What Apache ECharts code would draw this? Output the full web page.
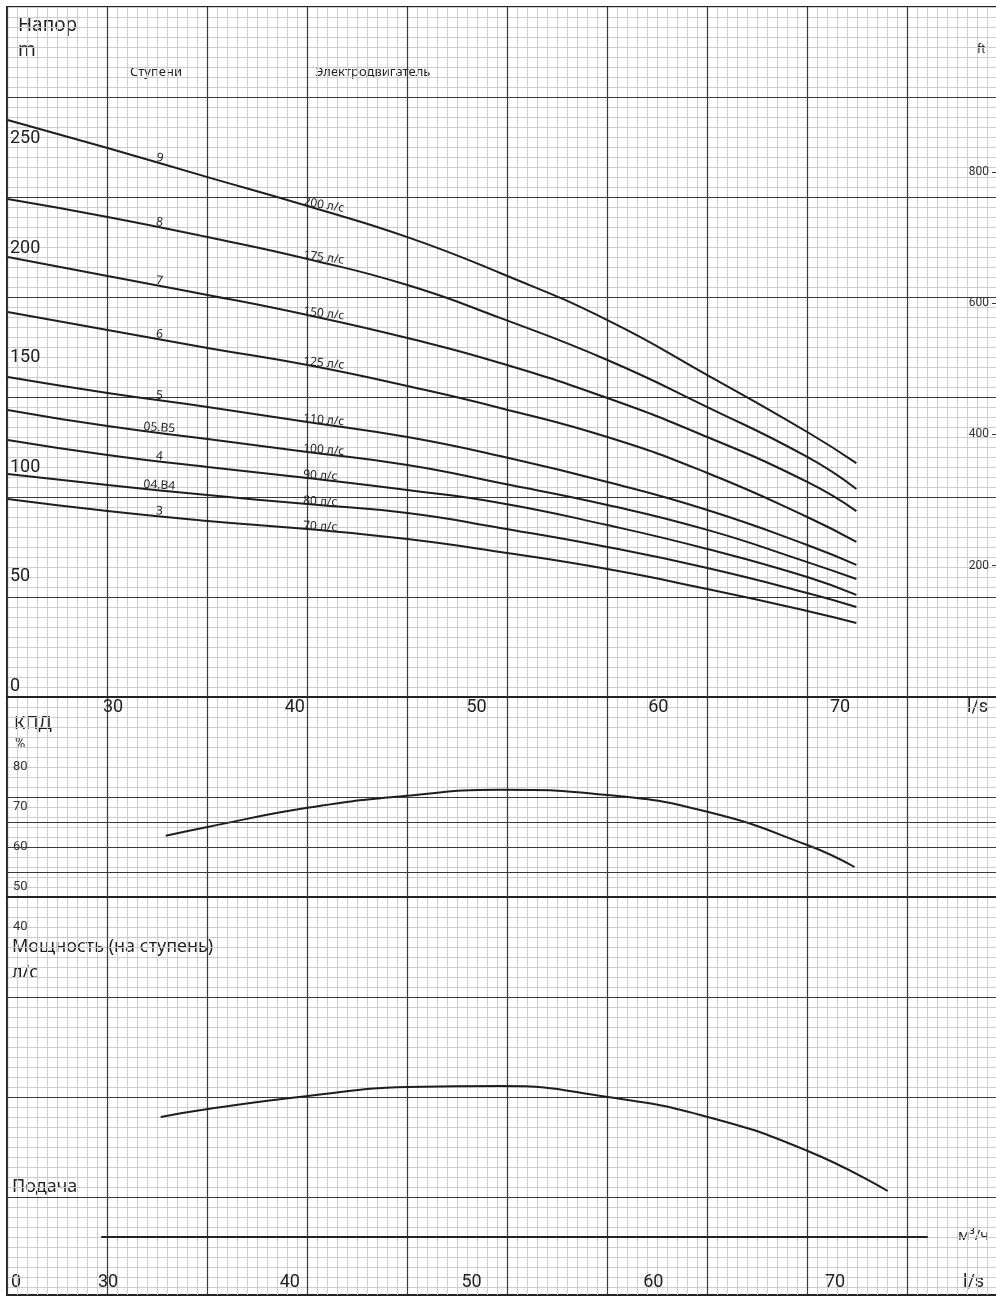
<!DOCTYPE html>
<html>
<head>
<meta charset="utf-8">
<script src="https://cdn.jsdelivr.net/npm/echarts@6/dist/echarts.min.js"></script>
<style>
  html, body { margin: 0; padding: 0; background: #fff; }
  #chart { width: 996px; height: 1296px; }
</style>
</head>
<body>
<div id="chart"></div>
<script>
// ---- data ----
var flowLabels = [30, 40, 50, 60, 70];          // l/s
var headTicks = [0, 50, 100, 150, 200, 250];     // m
var feetTicks = [200, 400, 600, 800];            // ft
var effTicks = [40, 50, 60, 70, 80];             // %

var stageNames = ['9', '8', '7', '6', '5', '05.B5', '4', '04.B4', '3'];
var motorNames = ['200 л/с', '175 л/с', '150 л/с', '125 л/с', '110 л/с', '100 л/с', '90 л/с', '80 л/с', '70 л/с'];

var flowHead = [24.2, 29.7, 35.2, 40.7, 46.2, 51.3, 57.2, 62.7, 68.2, 70.9];
var head9    = [263.5, 250.7, 237.4, 224.2, 210.0, 193.6, 172.1, 147.0, 121.0, 106.8];
var head8    = [227.4, 219.2, 210.0, 200.0, 188.1, 173.1, 153.9, 132.4, 109.6, 95.0];
var head7    = [200.9, 192.2, 183.6, 174.4, 163.9, 152.5, 136.5, 118.7, 98.2, 84.9];
var head6    = [175.8, 167.6, 159.4, 151.6, 142.0, 132.0, 118.7, 102.3, 82.2, 70.8];
var head5    = [146.1, 138.8, 132.4, 125.6, 118.7, 110.0, 98.2, 85.4, 69.4, 60.3];
var head05B5 = [131.1, 123.7, 117.8, 111.9, 105.9, 97.7, 87.7, 76.3, 61.6, 53.9];
var head4    = [117.4, 110.5, 105.0, 100.0, 94.5, 88.6, 78.5, 67.6, 54.8, 46.6];
var head04B4 = [101.8, 96.8, 92.2, 88.1, 84.0, 77.2, 68.5, 58.9, 47.5, 41.1];
var head3    = [90.4, 84.9, 80.4, 76.7, 72.1, 66.2, 58.4, 49.3, 39.3, 33.8];
var heads = [head9, head8, head7, head6, head5, head05B5, head4, head04B4, head3];

var flowEff = [32.9, 35.2, 40.7, 46.2, 51.3, 57.2, 62.7, 68.2, 70.8];
var efficiency = [62.8, 65.0, 69.8, 72.8, 74.3, 73.0, 68.8, 60.5, 55.0];

var flowPower = [32.9, 35.5, 41.0, 46.5, 51.6, 57.5, 63.0, 68.5, 72.9];
var power = [12.0, 12.8, 14.1, 15.0, 15.1, 14.0, 12.0, 8.6, 4.6];

// ---- layout ----
var PX_PER_LS = 18.175;   // pixels per l/s on the flow axes
var PX_PER_M = 2.19;      // pixels per metre of head
var TOP_30 = 113;         // where 30 l/s sits on the upper scale
var BOT_30 = 108;         // and on the lower scale
function flowAt(px, at30) { return 30 + (px - at30) / PX_PER_LS; }

var numFont = 'Roboto, "Liberation Sans", sans-serif';
var txtFont = '"Noto Sans", "DejaVu Sans", sans-serif';
var ink = '#1e1e1e';
var majorRule = { color: '#3a3a3a', width: 1.2 };
var minorRule = { color: '#cdcdcd', width: 1 };

function zip(xs, ys) { return xs.map(function (x, i) { return [x, ys[i]]; }); }
function interp(xs, ys, x) {
    for (var i = 0; i < xs.length - 1; i++) {
        if (x <= xs[i + 1]) {
            var t = (x - xs[i]) / (xs[i + 1] - xs[i]);
            return { y: ys[i] + t * (ys[i + 1] - ys[i]), slope: (ys[i] - ys[i + 1]) / (xs[i + 1] - xs[i]) };
        }
    }
}
function tilt(slope) { return -Math.atan(slope * PX_PER_M / PX_PER_LS) * 180 / Math.PI * 0.6; }

var STAGE_Q = flowAt(159, TOP_30);
var MOTOR_Q = flowAt(303, TOP_30);

var myChart = echarts.init(document.getElementById('chart'));

var series = [];
// extra rulings of the sheet (paper units)
series.push({
    type: 'line', xAxisIndex: 1, yAxisIndex: 1, data: [], silent: true,
    markLine: {
        silent: true, symbol: ['none', 'none'], label: { show: false },
        lineStyle: { color: '#3a3a3a', width: 1.2, type: 'solid' },
        data: [
            { yAxis: 825 }, { yAxis: 850 }, { yAxis: 875 },
            { yAxis: 900, lineStyle: { color: '#222', width: 2.2, type: 'solid' } }
        ]
    }
});

heads.forEach(function (h, i) {
    var s = interp(flowHead, h, STAGE_Q);
    var m = interp(flowHead, h, MOTOR_Q);
    series.push({
        name: stageNames[i],
        type: 'line',
        xAxisIndex: 2, yAxisIndex: 2,
        data: zip(flowHead, h),
        smooth: 0.5,
        showSymbol: false,
        lineStyle: { color: ink, width: 2 },
        markPoint: {
            silent: true,
            symbol: 'circle', symbolSize: 0,
            data: [
                {
                    name: stageNames[i], coord: [STAGE_Q, s.y],
                    label: { align: 'center', verticalAlign: 'bottom', offset: [0, 1], rotate: tilt(s.slope) }
                },
                {
                    name: motorNames[i], coord: [MOTOR_Q, m.y],
                    label: { align: 'left', verticalAlign: 'bottom', offset: [0, 3], rotate: tilt(m.slope) }
                }
            ],
            label: {
                show: true, position: 'inside', formatter: '{b}',
                color: ink, fontSize: 12, fontFamily: txtFont
            }
        }
    });
});

series.push({
    name: 'КПД', type: 'line', xAxisIndex: 3, yAxisIndex: 4,
    data: zip(flowEff, efficiency), smooth: 0.5, showSymbol: false,
    lineStyle: { color: ink, width: 2 }
});
series.push({
    name: 'Мощность', type: 'line', xAxisIndex: 4, yAxisIndex: 5,
    data: zip(flowPower, power), smooth: 0.5, showSymbol: false,
    lineStyle: { color: ink, width: 2 }
});

var hidden = { show: false };
var option = {
    backgroundColor: '#fff',
    animation: false,
    grid: [
        { left: 7, top: 7, width: 1000, height: 1288, show: true, borderColor: '#222', borderWidth: 2, backgroundColor: 'transparent', outerBoundsMode: 'none' },
        { left: 7, top: -3, width: 1000, height: 1300, outerBoundsMode: 'none' },
        { left: 7, top: 7, width: 989, height: 690, outerBoundsMode: 'none' },
        { left: 7, top: 697, width: 989, height: 250, outerBoundsMode: 'none' },
        { left: 102, top: 897, width: 825, height: 340, outerBoundsMode: 'none' },
        { left: 7, top: 1237, width: 989, height: 58, outerBoundsMode: 'none' },
        { left: 7, top: 7, width: 1000, height: 1288, outerBoundsMode: 'none' },
        { left: 7, top: -3, width: 1000, height: 1300, outerBoundsMode: 'none' }
    ],
    xAxis: [
        {   // vertical fine rulings
            gridIndex: 0, type: 'value', min: 0, max: 1000, interval: 100, z: 0,
            axisLine: hidden, axisTick: hidden, axisLabel: hidden, splitLine: hidden,
            minorTick: { show: false, splitNumber: 10 },
            minorSplitLine: { show: true, lineStyle: minorRule }
        },
        { gridIndex: 1, type: 'value', min: 0, max: 1000, show: false },
        {   // upper l/s scale
            gridIndex: 2, type: 'value', z: 3,
            min: flowAt(7, TOP_30), max: flowAt(996, TOP_30),
            axisLine: { show: true, lineStyle: { color: '#222', width: 2.2 } },
            axisTick: hidden, splitLine: hidden,
            axisLabel: {
                customValues: flowLabels, margin: 1,
                color: ink, fontSize: 18, fontFamily: numFont
            }
        },
        { gridIndex: 3, type: 'value', min: flowAt(7, TOP_30), max: flowAt(996, TOP_30), show: false },
        {   // м³/ч line
            gridIndex: 4, type: 'value', z: 3,
            min: flowAt(102, BOT_30), max: flowAt(927, BOT_30),
            axisLine: { show: true, lineStyle: { color: '#222', width: 2 } },
            axisTick: hidden, axisLabel: hidden, splitLine: hidden
        },
        {   // lower l/s scale
            gridIndex: 5, type: 'value', z: 3,
            min: flowAt(7, BOT_30), max: flowAt(996, BOT_30),
            axisLine: hidden, axisTick: hidden, splitLine: hidden,
            axisLabel: {
                inside: true, customValues: flowLabels, margin: 4,
                color: ink, fontSize: 18, fontFamily: numFont
            }
        },
        {   // vertical main rulings
            gridIndex: 6, type: 'value', min: 0, max: 1000, interval: 100, z: 1,
            axisLine: hidden, axisTick: hidden, axisLabel: hidden,
            splitLine: { show: true, lineStyle: majorRule }
        },
        { gridIndex: 7, type: 'value', min: 0, max: 1000, show: false }
    ],
    yAxis: [
        { gridIndex: 0, type: 'value', min: 0, max: 1288, show: false },
        {   // horizontal fine rulings
            gridIndex: 1, type: 'value', inverse: true, min: 0, max: 1300, interval: 100, z: 0,
            axisLine: hidden, axisTick: hidden, axisLabel: hidden, splitLine: hidden,
            minorTick: { show: false, splitNumber: 10 },
            minorSplitLine: { show: true, lineStyle: minorRule }
        },
        {   // head, m
            gridIndex: 2, type: 'value', min: 0, max: 690 / PX_PER_M, z: 3,
            axisLine: hidden, axisTick: hidden, splitLine: hidden,
            axisLabel: {
                inside: true, customValues: headTicks, margin: 3,
                verticalAlign: 'bottom', padding: [0, 0, 2, 0],
                color: ink, fontSize: 18, fontFamily: numFont
            }
        },
        {   // head, ft
            gridIndex: 2, type: 'value', position: 'right', min: 0, max: 1051, z: 3,
            axisLine: hidden, splitLine: hidden,
            axisTick: { show: true, inside: true, length: 4, customValues: feetTicks, lineStyle: { color: '#333' } },
            axisLabel: {
                inside: true, customValues: feetTicks, margin: 7,
                color: '#333', fontSize: 12, fontFamily: numFont
            }
        },
        {   // efficiency, %
            gridIndex: 3, type: 'value', min: 35, max: 97.5, z: 3,
            axisLine: hidden, axisTick: hidden, splitLine: hidden,
            axisLabel: {
                inside: true, customValues: effTicks, margin: 6,
                color: '#333', fontSize: 13, fontFamily: numFont
            }
        },
        { gridIndex: 4, type: 'value', min: 0, max: 34, show: false },
        { gridIndex: 5, type: 'value', min: 0, max: 1, show: false },
        { gridIndex: 6, type: 'value', min: 0, max: 1288, show: false },
        {   // horizontal main rulings
            gridIndex: 7, type: 'value', inverse: true, min: 0, max: 1300, interval: 100, z: 1,
            axisLine: hidden, axisTick: hidden, axisLabel: hidden,
            splitLine: { show: true, lineStyle: majorRule }
        }
    ],
    graphic: [
        { type: 'text', x: 18, y: 26, style: { text: 'Напор', fill: ink, font: '19px ' + txtFont, verticalAlign: 'middle' } },
        { type: 'text', x: 18, y: 51, style: { text: 'm', fill: ink, font: '19px ' + txtFont, verticalAlign: 'middle' } },
        { type: 'text', x: 130, y: 72, style: { text: 'Ступени', fill: ink, font: '13px ' + txtFont, verticalAlign: 'middle' } },
        { type: 'text', x: 315, y: 72, style: { text: 'Электродвигатель', fill: ink, font: '13px ' + txtFont, verticalAlign: 'middle' } },
        { type: 'text', x: 977, y: 50, style: { text: 'ft', fill: ink, font: '12px ' + numFont, verticalAlign: 'middle' } },
        { type: 'text', x: 967, y: 707, style: { text: 'l/s', fill: ink, font: '18px ' + numFont, verticalAlign: 'middle' } },
        { type: 'text', x: 14, y: 724, style: { text: 'КПД', fill: ink, font: '18px ' + txtFont, verticalAlign: 'middle' } },
        { type: 'text', x: 15, y: 744, style: { text: '%', fill: ink, font: '14px ' + numFont, verticalAlign: 'middle' } },
        { type: 'text', x: 12, y: 947, style: { text: 'Мощность (на ступень)', fill: ink, font: '18px ' + txtFont, verticalAlign: 'middle' } },
        { type: 'text', x: 12, y: 973, style: { text: 'л/с', fill: ink, font: '18px ' + txtFont, verticalAlign: 'middle' } },
        { type: 'text', x: 12, y: 1187, style: { text: 'Подача', fill: ink, font: '18px ' + txtFont, verticalAlign: 'middle' } },
        { type: 'text', x: 958, y: 1236, style: { text: 'м³/ч', fill: ink, font: '15px ' + txtFont, verticalAlign: 'middle' } },
        { type: 'text', x: 11, y: 1282, style: { text: '0', fill: ink, font: '18px ' + numFont, verticalAlign: 'middle' } },
        { type: 'text', x: 963, y: 1282, style: { text: 'l/s', fill: ink, font: '18px ' + numFont, verticalAlign: 'middle' } }
    ],
    series: series
};
myChart.setOption(option);
</script>
</body>
</html>
